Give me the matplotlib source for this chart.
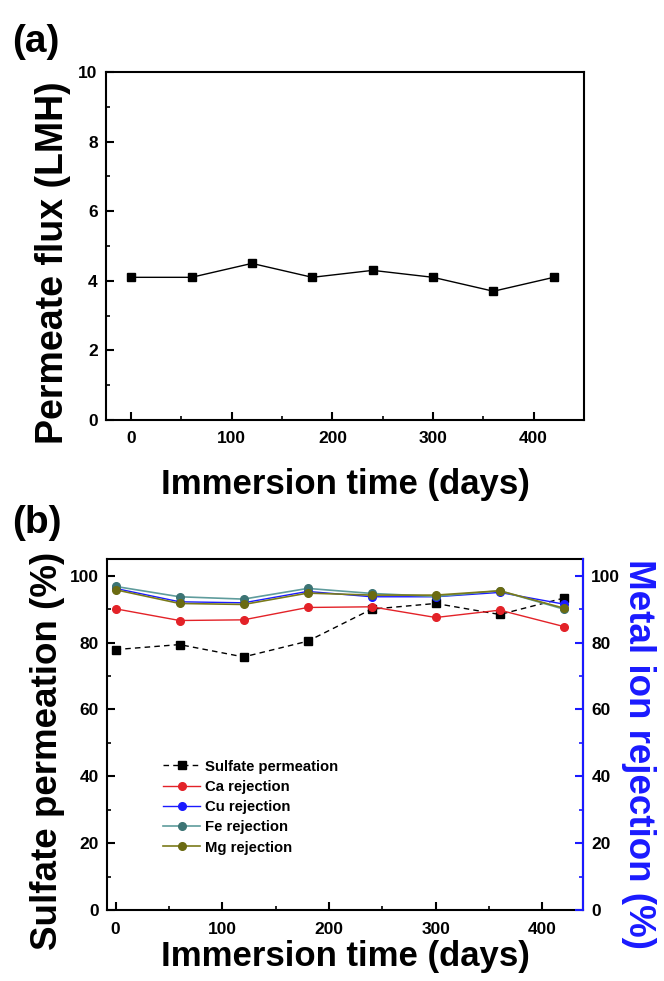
import matplotlib
matplotlib.use('Agg')
import matplotlib.pyplot as plt
from matplotlib.ticker import MultipleLocator

plt.rcParams['font.family'] = ['Liberation Sans', 'DejaVu Sans']
plt.rcParams['font.weight'] = 'bold'

# 浸泡时间 (days)
days = [0, 60, 120, 180, 240, 300, 360, 420]

# (a) 渗透通量
flux = [4.1, 4.1, 4.5, 4.1, 4.3, 4.1, 3.7, 4.1]

# (b) 硫酸盐透过率 和 金属离子截留率
sulfate = [77.9, 79.4, 75.7, 80.4, 90.0, 91.7, 88.4, 93.3]
ca_rej = [90.1, 86.6, 86.8, 90.5, 90.7, 87.5, 89.7, 84.8]
cu_rej = [96.2, 92.2, 91.9, 95.3, 93.7, 93.7, 95.0, 91.5]
fe_rej = [96.8, 93.7, 93.0, 96.2, 94.7, 93.8, 95.5, 90.0]
mg_rej = [95.8, 91.7, 91.4, 94.8, 94.2, 94.2, 95.5, 90.3]

W, H = 664, 981
fig = plt.figure(figsize=(W / 100, H / 100), dpi=100)


def box(l, t, r, b):
    return [l / W, 1 - b / H, (r - l) / W, (b - t) / H]


def style_ax(ax):
    for s in ax.spines.values():
        s.set_linewidth(1.5)
    ax.tick_params(which='both', direction='in', top=False, right=False)
    ax.tick_params(which='major', length=6, width=1.5, labelsize=12.5, pad=6)
    ax.tick_params(which='minor', length=3, width=1.2)
    for lab in ax.get_xticklabels() + ax.get_yticklabels():
        lab.set_fontweight('bold')


# ---------- (a) ----------
ax1 = fig.add_axes(box(106, 72, 584, 420))
ax1.plot(days, flux, color='black', lw=1, marker='s', ms=5.5)
ax1.set_xlim(-25, 450)
ax1.set_ylim(0, 10)
ax1.xaxis.set_major_locator(MultipleLocator(100))
ax1.xaxis.set_minor_locator(MultipleLocator(50))
ax1.yaxis.set_major_locator(MultipleLocator(2))
ax1.yaxis.set_minor_locator(MultipleLocator(1))
style_ax(ax1)
ax1.tick_params(axis='x', pad=8)
ax1.set_xlabel('Immersion time (days)', fontsize=25, fontweight='bold', labelpad=16)
ax1.set_ylabel('Permeate flux (LMH)', fontsize=27, fontweight='bold', labelpad=5)
ax1.yaxis.label.set_y(0.451)
fig.text(12 / W, 1 - 52 / H, '(a)', fontsize=28, fontweight='bold')

# ---------- (b) ----------
ax2 = fig.add_axes(box(107, 559, 583, 910))
ax2.plot(days, sulfate, color='black', lw=1, ls=(0, (4, 3)), marker='s', ms=5.5,
         label='Sulfate permeation')
ax2.set_xlim(-8, 438)
ax2.set_ylim(0, 105)
ax2.xaxis.set_major_locator(MultipleLocator(100))
ax2.xaxis.set_minor_locator(MultipleLocator(50))
ax2.yaxis.set_major_locator(MultipleLocator(20))
ax2.yaxis.set_minor_locator(MultipleLocator(10))
style_ax(ax2)
ax2.tick_params(axis='x', pad=9)
ax2.set_xlabel('Immersion time (days)', fontsize=25, fontweight='bold', labelpad=2)
ax2.set_ylabel('Sulfate permeation (%)', fontsize=26.5, fontweight='bold', labelpad=3)
ax2.yaxis.label.set_y(0.453)

ax3 = ax2.twinx()
ax3.plot(days, ca_rej, color='#e32228', lw=1, marker='o', ms=5.5, label='Ca rejection')
ax3.plot(days, cu_rej, color='#1a1aff', lw=1, marker='o', ms=5.5, label='Cu rejection')
ax3.plot(days, fe_rej, color='#5f9c9c', lw=1.2, marker='o', ms=5.5,
         mfc='#3c7474', mec='#3c7474', label='Fe rejection')
ax3.plot(days, mg_rej, color='#7a7a1a', lw=1.2, marker='o', ms=5.5,
         mfc='#6b6b12', mec='#6b6b12', label='Mg rejection')
ax3.set_ylim(0, 105)
ax3.yaxis.set_major_locator(MultipleLocator(20))
ax3.yaxis.set_minor_locator(MultipleLocator(10))
for s in ['left', 'top', 'bottom']:
    ax3.spines[s].set_visible(False)
ax3.spines['right'].set_color('#1a1aff')
ax3.spines['right'].set_linewidth(1.5)
ax3.tick_params(which='both', direction='in', colors='#1a1aff', labelcolor='black')
ax3.tick_params(which='major', length=6, width=1.5, labelsize=12.5, pad=6)
ax3.tick_params(which='minor', length=3, width=1.2)
for lab in ax3.get_yticklabels():
    lab.set_fontweight('bold')
ax3.set_ylabel('Metal ion rejection (%)', fontsize=26.5, fontweight='bold',
               color='#1a1aff', rotation=270, labelpad=26)
ax3.yaxis.label.set_y(0.444)

h1, l1 = ax2.get_legend_handles_labels()
h2, l2 = ax3.get_legend_handles_labels()
ax3.legend(h1 + h2, l1 + l2, loc='lower left', bbox_to_anchor=(0.09, 0.12),
           frameon=False, prop={'size': 10.7, 'weight': 'bold'},
           handlelength=2.5, labelspacing=0.42, handletextpad=0.3)

fig.text(12 / W, 1 - 533 / H, '(b)', fontsize=28, fontweight='bold')

fig.savefig('out.png', dpi=100)
